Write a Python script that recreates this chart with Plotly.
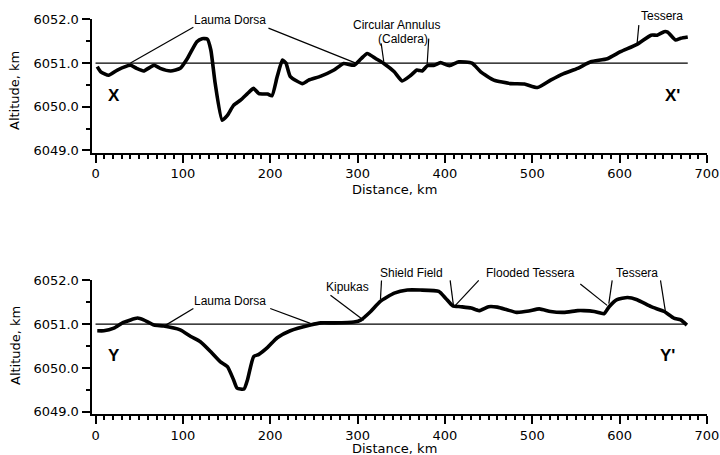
import plotly.graph_objects as go

# ---------------- data ----------------
dist_X = [2, 6, 15, 25, 40, 47, 55, 67, 74, 86, 97, 105, 116, 122, 128, 132, 137, 145, 151, 158,
          166, 176, 181, 187, 197, 202, 208, 214, 218, 223, 237, 244, 258, 273, 284, 296, 304, 311,
          321, 330, 342, 351, 361, 368, 374, 380, 388, 395, 405, 416, 431, 441, 456, 475, 491, 506,
          521, 536, 552, 567, 586, 601, 620, 636, 643, 651, 655, 664, 670, 678]
alt_X = [6050.92, 6050.80, 6050.72, 6050.84, 6050.95, 6050.88, 6050.82, 6050.95, 6050.88, 6050.82,
         6050.88, 6051.10, 6051.49, 6051.56, 6051.55, 6051.30, 6050.53, 6049.69, 6049.80, 6050.03,
         6050.15, 6050.34, 6050.42, 6050.30, 6050.29, 6050.25, 6050.69, 6051.07, 6051.00, 6050.69,
         6050.53, 6050.61, 6050.70, 6050.84, 6050.99, 6050.95, 6051.10, 6051.22, 6051.10, 6050.99,
         6050.80, 6050.59, 6050.72, 6050.84, 6050.82, 6050.94, 6050.95, 6051.01, 6050.94, 6051.03,
         6051.00, 6050.80, 6050.61, 6050.53, 6050.52, 6050.44, 6050.61, 6050.76, 6050.88, 6051.03,
         6051.10, 6051.26, 6051.43, 6051.64, 6051.64, 6051.72, 6051.71, 6051.53, 6051.57, 6051.60]

dist_Y = [2, 9.5, 21, 32, 48, 55, 67, 78, 97, 109, 120, 132, 143, 151, 158, 162, 170, 174, 181, 187,
          197, 208, 223, 246, 258, 273, 296, 304, 315, 326, 342, 357, 372, 393, 401, 409, 418, 430,
          439, 450, 460, 471, 482, 496, 508, 521, 536, 552, 559, 571, 582, 588, 597, 609, 620, 636,
          651, 662, 670, 677]
alt_Y = [6050.85, 6050.85, 6050.91, 6051.04, 6051.14, 6051.10, 6050.98, 6050.96, 6050.87, 6050.72,
         6050.60, 6050.37, 6050.14, 6050.03, 6049.73, 6049.54, 6049.52, 6049.73, 6050.26, 6050.31,
         6050.47, 6050.69, 6050.85, 6050.98, 6051.03, 6051.03, 6051.05, 6051.10, 6051.29, 6051.52,
         6051.71, 6051.78, 6051.78, 6051.75, 6051.59, 6051.42, 6051.40, 6051.37, 6051.31, 6051.40,
         6051.39, 6051.33, 6051.27, 6051.30, 6051.35, 6051.29, 6051.27, 6051.31, 6051.31, 6051.29,
         6051.24, 6051.40, 6051.56, 6051.61, 6051.56, 6051.40, 6051.29, 6051.14, 6051.10, 6050.98]

datum_alt = 6051.0
datum_X = [0, 678]
datum_Y = [0, 676]

y_ticks = [6049.0, 6050.0, 6051.0, 6052.0]
x_ticks = [0, 100, 200, 300, 400, 500, 600, 700]

# feature labels: (text, x, y) and leader lines (x0, y0, x1, y1) in data units
labels_top = [("Lauma Dorsa", 154, 6051.98), ("Circular Annulus", 345, 6051.88),
              ("(Caldera)", 352, 6051.56), ("Tessera", 649, 6052.08)]
leaders_top = [(112, 6051.82, 40, 6051.0), (198, 6051.80, 298, 6051.0),
               (327, 6051.45, 330, 6051.03), (381.5, 6051.56, 379.7, 6050.99),
               (622, 6051.87, 620, 6051.45)]
labels_bot = [("Lauma Dorsa", 154, 6051.54), ("Kipukas", 288, 6051.84),
              ("Shield Field", 362, 6052.18), ("Flooded Tessera", 498, 6052.18),
              ("Tessera", 620, 6052.18)]
leaders_bot = [(112, 6051.36, 78, 6050.95), (200, 6051.36, 246, 6051.02),
               (269, 6051.66, 307, 6051.09), (327.4, 6052.0, 326.2, 6051.57),
               (406, 6052.0, 410, 6051.39), (438.7, 6052.0, 412, 6051.43),
               (555, 6051.92, 585.7, 6051.43), (591.5, 6052.0, 587.6, 6051.47),
               (646.8, 6052.0, 652.5, 6051.28)]
end_labels_top = [("X", 20.6, 6050.25), ("X'", 660, 6050.25)]
end_labels_bot = [("Y", 20.6, 6050.29), ("Y'", 655, 6050.29)]

range_top = [6048.95, 6052.01]
range_bot = [6048.94, 6052.01]

# ---------------- figure ----------------
fig = go.Figure()
line_prof = dict(color="black", width=3.6, shape="spline", smoothing=0.5)
line_ref = dict(color="black", width=1.3)

fig.add_trace(go.Scatter(x=datum_X, y=[datum_alt] * 2, mode="lines", line=line_ref,
                         xaxis="x", yaxis="y", showlegend=False))
fig.add_trace(go.Scatter(x=dist_X, y=alt_X, mode="lines", line=line_prof,
                         xaxis="x", yaxis="y", showlegend=False))
fig.add_trace(go.Scatter(x=datum_Y, y=[datum_alt] * 2, mode="lines", line=line_ref,
                         xaxis="x2", yaxis="y2", showlegend=False))
fig.add_trace(go.Scatter(x=dist_Y, y=alt_Y, mode="lines", line=line_prof,
                         xaxis="x2", yaxis="y2", showlegend=False))

tickfont = dict(family="DejaVu Sans", size=13, color="black")
xax = dict(range=[-4.6, 700], tickvals=x_ticks, ticks="outside", ticklen=8, tickwidth=2,
           tickcolor="black", showline=True, linecolor="black", linewidth=2,
           showgrid=False, zeroline=False, tickfont=tickfont, automargin=False,
           minor=dict(dtick=10, ticks="outside", ticklen=4, tickwidth=1.5, tickcolor="black",
                      showgrid=False))
yax = dict(tickvals=y_ticks, tickformat=".1f", ticks="outside", ticklen=8, tickwidth=2,
           tickcolor="black", showline=True, linecolor="black", linewidth=2,
           showgrid=False, zeroline=False, tickfont=tickfont, automargin=False,
           minor=dict(dtick=0.5, ticks="outside", ticklen=4, tickwidth=1.5, tickcolor="black",
                      showgrid=False))

fig.update_layout(
    width=720, height=455, margin=dict(l=0, r=0, t=0, b=0, autoexpand=False),
    paper_bgcolor="white", plot_bgcolor="white",
    xaxis=dict(xax, domain=[0.1271, 0.9819], anchor="y"),
    yaxis=dict(yax, domain=[0.6648, 0.9582], range=range_top, anchor="x"),
    xaxis2=dict(xax, domain=[0.1271, 0.9819], anchor="y2"),
    yaxis2=dict(yax, domain=[0.0894, 0.3846], range=range_bot, anchor="x2"),
)


def dom(y, rng):
    # fraction of the axis domain for an altitude value (allows text above the plot top)
    return (y - rng[0]) / (rng[1] - rng[0])


C = dict(xanchor="center", yanchor="middle", showarrow=False)
ann_font = dict(family="Liberation Sans", size=12, color="black")
for txt, x, y in labels_top:
    fig.add_annotation(x=x, y=dom(y, range_top), xref="x", yref="y domain", text=txt,
                       font=ann_font, **C)
for txt, x, y in labels_bot:
    fig.add_annotation(x=x, y=dom(y, range_bot), xref="x2", yref="y2 domain", text=txt,
                       font=ann_font, **C)
for x0, y0, x1, y1 in leaders_top:
    fig.add_shape(type="line", x0=x0, y0=y0, x1=x1, y1=y1, xref="x", yref="y",
                  line=dict(color="black", width=1.2))
for x0, y0, x1, y1 in leaders_bot:
    fig.add_shape(type="line", x0=x0, y0=y0, x1=x1, y1=y1, xref="x2", yref="y2",
                  line=dict(color="black", width=1.2))
big_font = dict(family="Liberation Sans", size=17, color="black", weight="bold")
for txt, x, y in end_labels_top:
    fig.add_annotation(x=x, y=y, xref="x", yref="y", text=txt, font=big_font, **C)
for txt, x, y in end_labels_bot:
    fig.add_annotation(x=x, y=y, xref="x2", yref="y2", text=txt, font=big_font, **C)

title_font = dict(family="DejaVu Sans", size=13, color="black")
for ypos in [1 - 91 / 455, 1 - 346 / 455]:
    fig.add_annotation(x=15 / 720, y=ypos, xref="paper", yref="paper", text="Altitude, km",
                       textangle=-90, font=title_font, **C)
for ypos in [1 - 189 / 455, 1 - 448.5 / 455]:
    fig.add_annotation(x=394 / 720, y=ypos, xref="paper", yref="paper", text="Distance, km",
                       font=title_font, **C)

fig.write_html("out.html", config={"displayModeBar": False},
               post_script="document.body.style.margin='0';document.body.style.overflow='hidden';")
